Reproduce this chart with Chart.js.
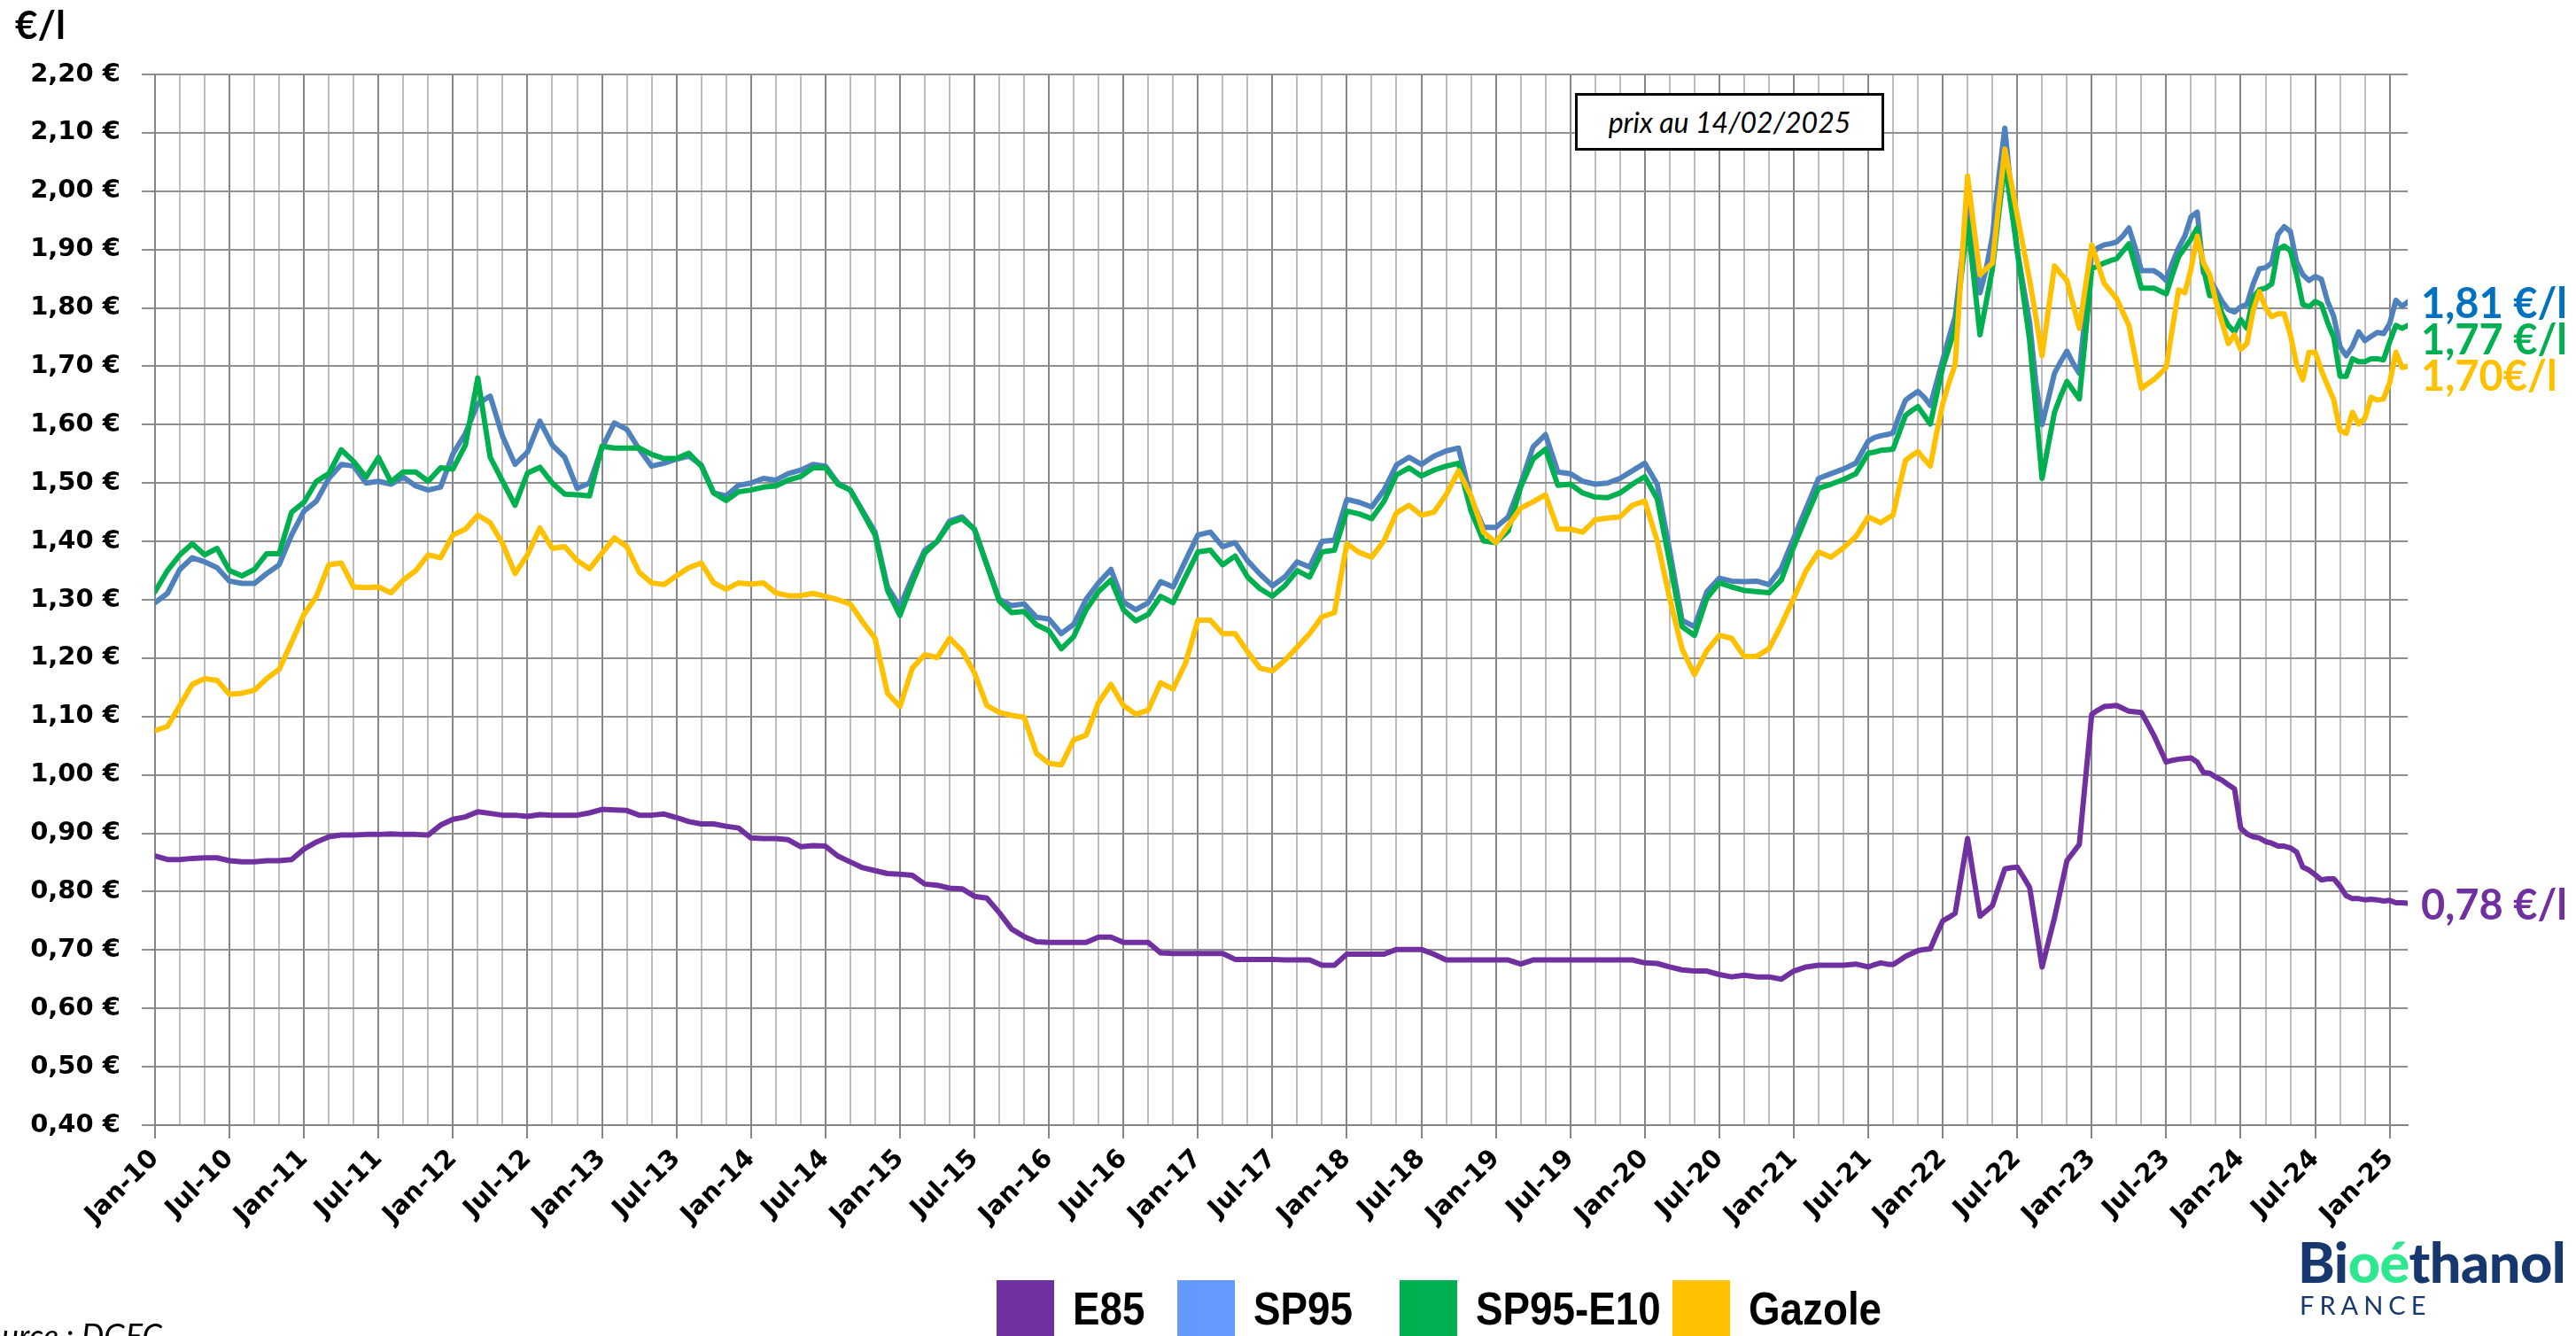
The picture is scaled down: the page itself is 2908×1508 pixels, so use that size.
<!DOCTYPE html>
<html lang="fr">
<head>
<meta charset="utf-8">
<title>Prix des carburants</title>
<script src="https://cdn.jsdelivr.net/npm/chart.js@4.4.1/dist/chart.umd.min.js"></script>
<style>
  html, body { margin: 0; padding: 0; background: #fff; }
  #wrap { position: relative; width: 2908px; height: 1508px; overflow: hidden; }
  #c { position: absolute; left: 0; top: 0; }
  .abs { position: absolute; white-space: nowrap; }
  #unit { left: 17px; top: 1px; font: 700 44px Lato, sans-serif; color: #000; }
  #stamp { left: 1778px; top: 105px; width: 349px; height: 65px; box-sizing: border-box;
           border: 3px solid #000; background: #fff; font: italic 400 32px Lato, sans-serif;
           display: flex; align-items: center; justify-content: center; }
  .lg-box { position: absolute; top: 1445px; width: 65px; height: 65px; }
  .lg-txt { position: absolute; top: 1447px; line-height: 62px; white-space: nowrap;
            font: 700 52px "Liberation Sans", Arial, sans-serif; color: #000;
            transform: scaleX(0.88); transform-origin: 0 50%; }
  #logo { left: 2594px; top: 1389px; font: 900 63px Lato, sans-serif; color: #17386f; letter-spacing: -0.5px; line-height: 70px; }
  #logo span { color: #2ee88f; }
  #france { left: 2596px; top: 1455px; font: 400 29px Lato, sans-serif; color: #17386f; letter-spacing: 6px; line-height: 36px; }
  #src { left: 183px; top: 1489px; transform: translateX(-100%); font: italic 400 36px Lato, sans-serif; color: #000; line-height: 36px; }
</style>
</head>
<body>
<div id="wrap">
  <canvas id="c" width="2908" height="1508" style="width:2908px;height:1508px"></canvas>
  <div class="abs" id="unit">€/l</div>
  <div class="abs" id="stamp">prix au 14/02/2025</div>
  <div id="legend"></div>
  <div class="abs" id="logo">Bi<span>oé</span>thanol</div>
  <div class="abs" id="france">FRANCE</div>
  <div class="abs" id="src">Source : DGEC</div>
</div>
<script>
/* ── Time axis: months since Jan 2010.
      Monthly points to Jun 2021, twice a month after, last price 14/02/2025 ── */
const MONTHLY_POINTS = 138;
const HALF_MONTH_POINTS = 87;
const LAST_DATE = 181.45;
const dates = [];
for (let i = 0; i < MONTHLY_POINTS; i++) dates.push(i);
for (let i = 0; i < HALF_MONTH_POINTS; i++) dates.push(138 + i / 2);
dates.push(LAST_DATE);

const seriesNames = ['E85', 'SP95', 'SP95-E10', 'Gazole'];
const endLabels   = ['0,78 €/l', '1,81 €/l', '1,77 €/l', '1,70€/l'];
const tickNames   = ['Jan', 'Jul'];

/* ── Prices €/l ── */
const e85 = [
  0.861, 0.855, 0.855, 0.857, 0.858, 0.858, 0.853, 0.851, 0.851, 0.853, 0.853, 0.855,
  0.873, 0.885, 0.894, 0.897, 0.897, 0.898, 0.898, 0.899, 0.898, 0.898, 0.897, 0.914,
  0.924, 0.928, 0.937, 0.934, 0.931, 0.931, 0.929, 0.932, 0.931, 0.931, 0.931, 0.935,
  0.941, 0.940, 0.939, 0.931, 0.931, 0.933, 0.927, 0.920, 0.916, 0.916, 0.912, 0.909,
  0.892, 0.891, 0.891, 0.889, 0.877, 0.879, 0.878, 0.861, 0.851, 0.841, 0.836, 0.831,
  0.830, 0.828, 0.813, 0.811, 0.806, 0.805, 0.792, 0.789, 0.764, 0.736, 0.723, 0.714,
  0.713, 0.713, 0.713, 0.713, 0.722, 0.722, 0.713, 0.713, 0.713, 0.695, 0.694, 0.694,
  0.694, 0.694, 0.694, 0.684, 0.684, 0.684, 0.684, 0.683, 0.683, 0.683, 0.674, 0.674,
  0.693, 0.693, 0.693, 0.693, 0.701, 0.701, 0.701, 0.693, 0.683, 0.683, 0.683, 0.683,
  0.683, 0.683, 0.676, 0.683, 0.683, 0.683, 0.683, 0.683, 0.683, 0.683, 0.683, 0.683,
  0.678, 0.677, 0.671, 0.666, 0.664, 0.664, 0.658, 0.654, 0.657, 0.654, 0.654, 0.650,
  0.664, 0.671, 0.674, 0.674, 0.674, 0.676,
  0.671, 0.675, 0.678, 0.676, 0.675, 0.682, 0.689, 0.694, 0.699,
  0.701, 0.702, 0.727, 0.750, 0.756, 0.763, 0.827, 0.891, 0.824,
  0.758, 0.767, 0.776, 0.808, 0.839, 0.841, 0.842, 0.825, 0.807,
  0.740, 0.671, 0.713, 0.755, 0.804, 0.853, 0.867, 0.881, 0.993,
  1.104, 1.111, 1.117, 1.118, 1.119, 1.114, 1.109, 1.108, 1.107,
  1.088, 1.068, 1.045, 1.022, 1.025, 1.027, 1.028, 1.029, 1.022,
  1.004, 1.003, 0.996, 0.991, 0.983, 0.976, 0.909, 0.899, 0.894,
  0.892, 0.886, 0.883, 0.878, 0.878, 0.875, 0.868, 0.842, 0.837,
  0.829, 0.820, 0.822, 0.822, 0.809, 0.793, 0.788, 0.788, 0.786,
  0.787, 0.786, 0.784, 0.785, 0.781, 0.781,
  0.780
];

const sp95 = [
  1.295, 1.311, 1.352, 1.372, 1.365, 1.355, 1.332, 1.328, 1.328, 1.345, 1.360, 1.411,
  1.452, 1.469, 1.508, 1.532, 1.529, 1.500, 1.503, 1.498, 1.510, 1.495, 1.488, 1.493,
  1.550, 1.585, 1.636, 1.649, 1.580, 1.532, 1.553, 1.606, 1.565, 1.544, 1.491, 1.500,
  1.560, 1.603, 1.592, 1.558, 1.529, 1.534, 1.541, 1.546, 1.531, 1.483, 1.478, 1.496,
  1.500, 1.508, 1.505, 1.516, 1.522, 1.532, 1.529, 1.500, 1.488, 1.452, 1.416, 1.322,
  1.288, 1.339, 1.385, 1.400, 1.435, 1.442, 1.421, 1.360, 1.301, 1.290, 1.293, 1.270,
  1.267, 1.242, 1.258, 1.301, 1.329, 1.352, 1.296, 1.283, 1.295, 1.331, 1.322, 1.367,
  1.411, 1.416, 1.391, 1.398, 1.367, 1.344, 1.324, 1.339, 1.365, 1.356, 1.400, 1.402,
  1.472, 1.467, 1.459, 1.488, 1.531, 1.544, 1.532, 1.546, 1.555, 1.560, 1.473, 1.424,
  1.424, 1.442, 1.498, 1.562, 1.583, 1.519, 1.516, 1.503, 1.498, 1.500, 1.508, 1.521,
  1.534, 1.498, 1.385, 1.265, 1.254, 1.314, 1.337, 1.332, 1.331, 1.332, 1.326, 1.354,
  1.406, 1.457, 1.508, 1.516, 1.524, 1.534,
  1.572, 1.578, 1.581, 1.583, 1.586, 1.616, 1.642, 1.650, 1.657,
  1.647, 1.633, 1.672, 1.711, 1.749, 1.785, 1.877, 1.972, 1.898,
  1.826, 1.867, 1.923, 2.021, 2.108, 2.000, 1.898, 1.836, 1.775,
  1.672, 1.600, 1.644, 1.688, 1.708, 1.726, 1.705, 1.688, 1.795,
  1.893, 1.903, 1.908, 1.910, 1.913, 1.923, 1.937, 1.903, 1.864,
  1.864, 1.864, 1.857, 1.847, 1.877, 1.903, 1.923, 1.956, 1.964,
  1.860, 1.849, 1.831, 1.811, 1.797, 1.793, 1.802, 1.806, 1.841,
  1.867, 1.869, 1.877, 1.926, 1.939, 1.931, 1.879, 1.857, 1.847,
  1.854, 1.849, 1.811, 1.785, 1.734, 1.718, 1.734, 1.759, 1.744,
  1.751, 1.758, 1.756, 1.773, 1.813, 1.803,
  1.810
];

const sp95e10 = [
  1.314, 1.350, 1.377, 1.396, 1.377, 1.388, 1.350, 1.341, 1.352, 1.379, 1.379, 1.450,
  1.467, 1.503, 1.516, 1.557, 1.537, 1.510, 1.544, 1.502, 1.519, 1.519, 1.503, 1.526,
  1.524, 1.565, 1.680, 1.544, 1.503, 1.462, 1.517, 1.527, 1.500, 1.481, 1.480, 1.478,
  1.563, 1.560, 1.560, 1.560, 1.549, 1.542, 1.542, 1.551, 1.529, 1.483, 1.470, 1.485,
  1.488, 1.493, 1.495, 1.505, 1.511, 1.526, 1.526, 1.498, 1.488, 1.450, 1.411, 1.316,
  1.273, 1.329, 1.380, 1.400, 1.431, 1.439, 1.421, 1.360, 1.298, 1.278, 1.280, 1.257,
  1.247, 1.216, 1.237, 1.283, 1.314, 1.334, 1.283, 1.264, 1.275, 1.306, 1.295, 1.339,
  1.382, 1.385, 1.360, 1.375, 1.339, 1.319, 1.306, 1.324, 1.350, 1.339, 1.382, 1.385,
  1.452, 1.447, 1.439, 1.469, 1.514, 1.526, 1.512, 1.522, 1.529, 1.534, 1.452, 1.401,
  1.398, 1.418, 1.493, 1.541, 1.558, 1.496, 1.498, 1.483, 1.476, 1.475, 1.483, 1.498,
  1.511, 1.473, 1.365, 1.254, 1.239, 1.303, 1.329, 1.322, 1.316, 1.314, 1.312, 1.334,
  1.391, 1.442, 1.491, 1.498, 1.506, 1.516,
  1.551, 1.553, 1.556, 1.557, 1.558, 1.587, 1.616, 1.624, 1.631,
  1.616, 1.601, 1.650, 1.698, 1.732, 1.765, 1.857, 1.949, 1.852,
  1.754, 1.810, 1.867, 1.959, 2.051, 1.975, 1.898, 1.821, 1.744,
  1.626, 1.508, 1.565, 1.621, 1.649, 1.674, 1.659, 1.644, 1.754,
  1.867, 1.872, 1.877, 1.881, 1.884, 1.897, 1.910, 1.872, 1.834,
  1.834, 1.834, 1.829, 1.824, 1.857, 1.888, 1.903, 1.918, 1.937,
  1.867, 1.821, 1.821, 1.790, 1.770, 1.759, 1.780, 1.765, 1.818,
  1.831, 1.834, 1.841, 1.900, 1.906, 1.898, 1.857, 1.806, 1.802,
  1.811, 1.806, 1.775, 1.749, 1.683, 1.683, 1.713, 1.708, 1.708,
  1.713, 1.713, 1.711, 1.742, 1.770, 1.765,
  1.770
];

const gazole = [
  1.076, 1.083, 1.119, 1.155, 1.165, 1.162, 1.138, 1.140, 1.145, 1.165, 1.181, 1.227,
  1.275, 1.306, 1.360, 1.363, 1.322, 1.321, 1.322, 1.312, 1.334, 1.350, 1.377, 1.372,
  1.411, 1.421, 1.445, 1.432, 1.396, 1.345, 1.377, 1.423, 1.388, 1.391, 1.367, 1.353,
  1.380, 1.406, 1.391, 1.347, 1.329, 1.326, 1.341, 1.355, 1.363, 1.329, 1.318, 1.329,
  1.327, 1.329, 1.312, 1.307, 1.307, 1.311, 1.306, 1.300, 1.293, 1.262, 1.234, 1.140,
  1.117, 1.183, 1.206, 1.201, 1.234, 1.213, 1.175, 1.119, 1.107, 1.102, 1.099, 1.037,
  1.020, 1.017, 1.060, 1.068, 1.124, 1.155, 1.119, 1.104, 1.111, 1.158, 1.147, 1.191,
  1.265, 1.265, 1.242, 1.242, 1.211, 1.183, 1.178, 1.196, 1.219, 1.242, 1.271, 1.278,
  1.396, 1.381, 1.373, 1.401, 1.449, 1.462, 1.445, 1.450, 1.480, 1.521, 1.478, 1.416,
  1.398, 1.427, 1.457, 1.468, 1.480, 1.421, 1.421, 1.416, 1.437, 1.440, 1.442, 1.462,
  1.469, 1.401, 1.303, 1.216, 1.172, 1.213, 1.239, 1.234, 1.203, 1.203, 1.216, 1.257,
  1.303, 1.350, 1.382, 1.373, 1.389, 1.408,
  1.442, 1.437, 1.432, 1.439, 1.445, 1.493, 1.539, 1.547, 1.554,
  1.541, 1.529, 1.585, 1.636, 1.672, 1.703, 1.867, 2.026, 1.939,
  1.857, 1.867, 1.877, 1.975, 2.072, 2.016, 1.959, 1.903, 1.847,
  1.785, 1.718, 1.795, 1.872, 1.859, 1.847, 1.806, 1.765, 1.837,
  1.908, 1.875, 1.842, 1.829, 1.816, 1.793, 1.770, 1.715, 1.662,
  1.670, 1.677, 1.687, 1.698, 1.765, 1.831, 1.826, 1.867, 1.923,
  1.877, 1.857, 1.811, 1.775, 1.739, 1.754, 1.729, 1.739, 1.795,
  1.828, 1.800, 1.785, 1.790, 1.790, 1.754, 1.703, 1.677, 1.724,
  1.724, 1.693, 1.667, 1.642, 1.590, 1.585, 1.621, 1.601, 1.611,
  1.647, 1.642, 1.644, 1.672, 1.724, 1.698,
  1.700
];

/* ── Styles ── */
const lineColors   = ['#7030A0', '#4F81BD', '#00B050', '#FFC000'];
const legendColors = ['#7030A0', '#6699FF', '#00B050', '#FFC000'];
const labelColors  = ['#7030A0', '#0070C0', '#00B050', '#FFC000'];
const legendX      = [1125, 1329, 1580, 1888];

const seriesData = [e85, sp95, sp95e10, gazole];

const GRID_MAJOR = '#858585';
const GRID_MINOR = '#bebebe';
const GRID_H     = '#8f8f8f';
const TICK_FONT  = { family: 'DejaVu Sans', size: 29, weight: 'bold' };

// vertical grid every 2 months, labels every 6 months
const gridMonths = [];
for (let m = 0; m <= 180; m += 2) gridMonths.push(m);

function monthLabel(v) {
  if (v % 6 !== 0) return '';
  const yy = 10 + Math.floor(v / 12);
  return tickNames[(v % 12) / 6] + '-' + String(yy).padStart(2, '0');
}

const endLabelPlugin = {
  id: 'endLabels',
  afterDatasetsDraw(chart) {
    const ctx = chart.ctx;
    const y = chart.scales.y;
    const items = seriesData.map((s, i) => ({
      text: endLabels[i],
      color: labelColors[i],
      py: y.getPixelForValue(s[s.length - 1])
    })).sort((a, b) => a.py - b.py);
    for (let i = 1; i < items.length; i++) {
      items[i].py = Math.max(items[i].py, items[i - 1].py + 41);
    }
    ctx.save();
    ctx.font = 'bold 47px Lato';
    ctx.textAlign = 'left';
    ctx.textBaseline = 'middle';
    items.forEach(it => {
      ctx.fillStyle = it.color;
      ctx.fillText(it.text, chart.chartArea.right + 15, it.py + 3);
    });
    ctx.restore();
  }
};

new Chart(document.getElementById('c'), {
  type: 'line',
  data: {
    datasets: seriesNames.map((name, i) => ({
      label: name,
      data: seriesData[i].map((v, k) => ({ x: dates[k], y: v })),
      borderColor: lineColors[i],
      borderWidth: 6,
      pointRadius: 0,
      tension: 0,
      borderJoinStyle: 'round',
      borderCapStyle: 'round',
      order: 3 - i
    }))
  },
  options: {
    responsive: false,
    animation: false,
    devicePixelRatio: 1,
    layout: { padding: { top: 84, right: 190, left: 0, bottom: 0 } },
    plugins: { legend: { display: false }, tooltip: { enabled: false } },
    scales: {
      x: {
        type: 'linear',
        min: 0,
        max: LAST_DATE,
        afterBuildTicks: s => { s.ticks = gridMonths.map(v => ({ value: v })); },
        afterFit: s => { s.height = 238; },
        grid: {
          color: c => (c.tick && c.tick.value % 6 === 0) ? GRID_MAJOR : GRID_MINOR,
          lineWidth: 2,
          tickLength: 15,
          tickColor: c => (c.tick && c.tick.value % 6 === 0) ? GRID_MAJOR : 'rgba(0,0,0,0)'
        },
        border: { color: GRID_MAJOR, width: 2 },
        ticks: {
          autoSkip: false,
          minRotation: 45,
          maxRotation: 45,
          padding: 6,
          color: '#000',
          font: TICK_FONT,
          callback: v => monthLabel(v)
        }
      },
      y: {
        min: 0.4,
        max: 2.2,
        afterFit: s => { s.width = 175; },
        grid: { color: GRID_H, lineWidth: 2, tickLength: 15, tickColor: GRID_H },
        border: { color: GRID_MAJOR, width: 2 },
        ticks: {
          stepSize: 0.1,
          padding: 24,
          color: '#000',
          font: TICK_FONT,
          callback: v => v.toFixed(2).replace('.', ',') + ' €'
        }
      }
    }
  },
  plugins: [endLabelPlugin]
});

/* ── Legend (HTML) ── */
const legendEl = document.getElementById('legend');
seriesNames.forEach((name, i) => {
  const box = document.createElement('div');
  box.className = 'lg-box';
  box.style.left = legendX[i] + 'px';
  box.style.background = legendColors[i];
  const txt = document.createElement('div');
  txt.className = 'lg-txt';
  txt.style.left = (legendX[i] + 86) + 'px';
  txt.textContent = name;
  legendEl.appendChild(box);
  legendEl.appendChild(txt);
});
</script>
</body>
</html>
